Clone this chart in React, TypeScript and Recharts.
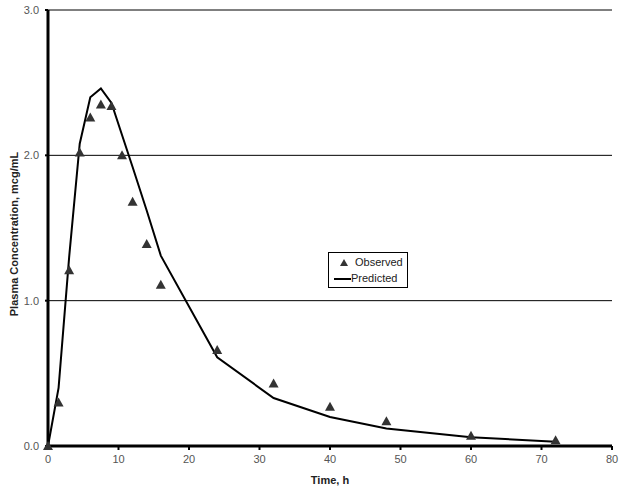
import React from "react";
import {
  ComposedChart,
  Line,
  Scatter,
  XAxis,
  YAxis,
  CartesianGrid,
  Label,
} from "recharts";

// sampling times (h)
const times = [0, 1.5, 3, 4.5, 6, 7.5, 9, 10.5, 12, 14, 16, 24, 32, 40, 48, 60, 72];
const observed = [0, 0.3, 1.21, 2.02, 2.26, 2.35, 2.34, 2.0, 1.68, 1.39, 1.11, 0.66, 0.43, 0.27, 0.17, 0.07, 0.04];
const predicted = [0, 0.4, 1.3, 2.08, 2.4, 2.46, 2.36, 2.14, 1.92, 1.62, 1.31, 0.61, 0.33, 0.2, 0.12, 0.06, 0.03];
const xTicks = [0, 10, 20, 30, 40, 50, 60, 70, 80];
const yTicks = [0, 1, 2, 3];

const obsData = times.map((t, i) => ({ t, c: observed[i] }));
const predData = times.map((t, i) => ({ t, c: predicted[i] }));

const tickFont = "'Liberation Sans Narrow', 'Arial Narrow', 'Liberation Sans', Arial, sans-serif";
const boldFont = "'Liberation Sans', Arial, sans-serif";

const Triangle = (props: any) => {
  const { cx, cy } = props;
  if (cx == null || cy == null) return null;
  return (
    <path
      d={`M${cx},${cy - 5} L${cx + 5},${cy + 4} L${cx - 5},${cy + 4} Z`}
      fill="#333"
    />
  );
};

const LegendBox = () => (
  <div
    style={{
      position: "absolute",
      left: 328,
      top: 252,
      width: 80,
      height: 36,
      border: "1px solid #000",
      background: "#fff",
      fontFamily: tickFont,
      fontSize: 11,
      color: "#222",
      boxSizing: "border-box",
    }}
  >
    <svg width={22} height={34} style={{ position: "absolute", left: 0, top: 0 }}>
      <path d="M15,6 L19,13 L11,13 Z" fill="#333" />
      <line x1={5} y1={26} x2={22} y2={26} stroke="#000" strokeWidth={2} />
    </svg>
    <div style={{ position: "absolute", left: 26, top: 3 }}>Observed</div>
    <div style={{ position: "absolute", left: 22, top: 19 }}>Predicted</div>
  </div>
);

const App: React.FC = () => {
  return (
    <div style={{ position: "absolute", left: 0, top: 0, width: 627, height: 489, background: "#fff" }}>
      <ComposedChart
        width={627}
        height={489}
        margin={{ top: 10, right: 15, bottom: 13, left: 0 }}
      >
        <CartesianGrid vertical={false} stroke="#000" strokeWidth={1} />
        <XAxis
          type="number"
          dataKey="t"
          domain={[0, 80]}
          ticks={xTicks}
          interval={0}
          height={30}
          axisLine={{ stroke: "#000", strokeWidth: 3 }}
          tickLine={{ stroke: "#000", strokeWidth: 2 }}
          tickSize={4}
          tickMargin={5}
          tick={{ fill: "#555", fontSize: 11, fontFamily: tickFont }}
        >
          <Label
            value="Time, h"
            position="insideBottom"
            offset={-8}
            style={{ fill: "#222", fontSize: 11, fontWeight: "bold", fontFamily: boldFont }}
          />
        </XAxis>
        <YAxis
          type="number"
          dataKey="c"
          domain={[0, 3]}
          ticks={yTicks}
          interval={0}
          width={48}
          tickFormatter={(v: number) => v.toFixed(1)}
          axisLine={{ stroke: "#000", strokeWidth: 3 }}
          tickLine={{ stroke: "#000", strokeWidth: 2 }}
          tickSize={3}
          tickMargin={6}
          tick={{ fill: "#555", fontSize: 11, fontFamily: tickFont }}
        >
          <Label
            value="Plasma Concentration,  mcg/mL"
            angle={-90}
            position="insideLeft"
            offset={14}
            dy={6}
            style={{
              fill: "#222",
              fontSize: 11,
              fontWeight: "bold",
              fontFamily: boldFont,
              textAnchor: "middle",
              whiteSpace: "pre",
            }}
          />
        </YAxis>
        <Line
          data={predData}
          dataKey="c"
          type="linear"
          stroke="#000"
          strokeWidth={2}
          dot={false}
          activeDot={false}
          name="Predicted"
          isAnimationActive={false}
        />
        <Scatter
          data={obsData}
          dataKey="c"
          name="Observed"
          shape={<Triangle />}
          isAnimationActive={false}
        />
      </ComposedChart>
      <LegendBox />
    </div>
  );
};

export default App;
